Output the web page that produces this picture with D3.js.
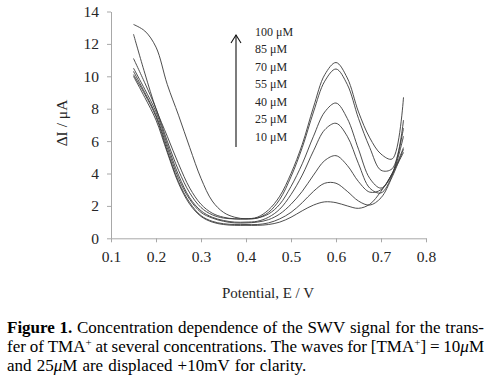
<!DOCTYPE html>
<html>
<head>
<meta charset="utf-8">
<script src="https://cdn.jsdelivr.net/npm/d3@7"></script>
<style>
  html, body { margin: 0; padding: 0; background: #fff; }
  svg { display: block; }
</style>
</head>
<body>
<svg id="chart" width="487" height="380"></svg>
<script>
// ---- data ----
const potentials = [0.15,0.175,0.2,0.225,0.25,0.275,0.3,0.325,0.35,0.375,0.4,0.425,0.45,0.475,0.5,0.525,0.55,0.575,0.6,0.625,0.65,0.675,0.7,0.725,0.75];
const c100 = [12.6,10.2,8.0,6.3,4.6,3.1,2.1,1.55,1.3,1.2,1.2,1.3,1.75,2.6,4.0,5.8,8.1,10.1,10.85,9.9,7.8,6.2,5.2,4.9,8.7];
const c85  = [13.2,12.8,11.8,9.5,7.6,5.6,3.7,2.3,1.6,1.3,1.2,1.25,1.6,2.4,3.8,5.6,7.8,9.7,10.45,9.5,7.4,5.6,4.2,4.3,7.3];
const c70  = [11.1,9.6,8.0,6.0,4.2,2.8,1.9,1.45,1.25,1.2,1.2,1.25,1.5,2.1,3.2,4.6,6.3,7.8,8.35,7.4,5.5,3.7,3.1,4.0,6.8];
const c55  = [10.5,9.2,7.8,5.8,3.9,2.5,1.7,1.3,1.1,1.0,1.0,1.05,1.3,1.8,2.7,3.9,5.4,6.7,7.1,6.3,4.6,3.1,2.8,3.9,6.3];
const c40  = [10.3,9.0,7.6,5.6,3.7,2.4,1.6,1.25,1.05,0.95,0.95,1.0,1.15,1.5,2.1,2.9,3.9,4.8,5.1,4.5,3.5,2.85,3.0,4.0,5.6];
const c25  = [10.1,8.9,7.5,5.4,3.5,2.2,1.4,1.05,0.9,0.85,0.85,0.85,0.95,1.2,1.6,2.2,2.9,3.4,3.4,2.9,2.3,2.05,2.5,3.8,5.5];
const c10  = [10.0,8.7,7.3,5.3,3.4,2.1,1.35,1.0,0.85,0.8,0.8,0.8,0.85,1.0,1.3,1.7,2.05,2.25,2.2,2.0,1.85,2.1,2.9,4.0,5.3];
const seriesValues = [c100, c85, c70, c55, c40, c25, c10];
const concLabels = ["100 \u03bcM","85 \u03bcM","70 \u03bcM","55 \u03bcM","40 \u03bcM","25 \u03bcM","10 \u03bcM"];
const xTicks = [0.1,0.2,0.3,0.4,0.5,0.6,0.7,0.8];
const yTicks = [0,2,4,6,8,10,12,14];

// ---- layout ----
const svg = d3.select("#chart");
const serif = "Liberation Serif";
const x = d3.scaleLinear().domain([0.1, 0.8]).range([111, 426]);
const y = d3.scaleLinear().domain([0, 14]).range([238.3, 11.5]);
const axisColor = "#a8a8a8";
const textColor = "#262626";

const gx = svg.append("g").attr("transform", `translate(0,${y(0)})`)
  .call(d3.axisBottom(x).tickValues(xTicks).tickSize(4).tickSizeOuter(0).tickPadding(9).tickFormat(d3.format(".1f")));
const gy = svg.append("g").attr("transform", `translate(${x(0.1)},0)`)
  .call(d3.axisLeft(y).tickValues(yTicks).tickSize(4).tickSizeOuter(0).tickPadding(8).tickFormat(d3.format("d")));
[gx, gy].forEach(g => {
  g.attr("font-family", serif).attr("font-size", 15.5);
  g.select(".domain").attr("stroke", axisColor).attr("stroke-width", 1);
  g.selectAll(".tick line").attr("stroke", axisColor).attr("stroke-width", 1);
  g.selectAll(".tick text").attr("fill", textColor);
});

// curves
const line = d3.line()
  .x((d, i) => x(potentials[i]))
  .y(d => y(d))
  .curve(d3.curveCatmullRom.alpha(0.5));
svg.append("g").selectAll("path").data(seriesValues).join("path")
  .attr("d", line)
  .attr("fill", "none")
  .attr("stroke", "#3a3a3a")
  .attr("stroke-width", 0.9);

// axis titles
svg.append("text")
  .attr("transform", "translate(67,123) rotate(-90)")
  .attr("text-anchor", "middle")
  .attr("font-family", serif).attr("font-size", 15.5).attr("fill", textColor)
  .text("\u0394I / \u03bcA");
svg.append("text")
  .attr("x", 268).attr("y", 298)
  .attr("text-anchor", "middle")
  .attr("font-family", serif).attr("font-size", 15).attr("fill", textColor)
  .text("Potential, E / V");

// legend arrow + labels
const leg = svg.append("g");
leg.append("line").attr("x1", 236).attr("x2", 236).attr("y1", 147).attr("y2", 35)
  .attr("stroke", "#111").attr("stroke-width", 1.1);
leg.append("path").attr("d", "M231,43 L236,35 L241,43").attr("fill", "none")
  .attr("stroke", "#111").attr("stroke-width", 1.1);
leg.selectAll("text").data(concLabels).join("text")
  .attr("x", 255).attr("y", (d, i) => 35.5 + i * 17.5)
  .attr("font-family", serif).attr("font-size", 12).attr("fill", textColor)
  .text(d => d);

// caption (justified)
const capSize = 17;
const L = 7, R = 484;
const captionLines = [
  { justify: true, words: [
    [{t:"Figure", b:1}], [{t:"1.", b:1}], [{t:"Concentration"}], [{t:"dependence"}], [{t:"of"}], [{t:"the"}],
    [{t:"SWV"}], [{t:"signal"}], [{t:"for"}], [{t:"the"}], [{t:"trans-"}]
  ]},
  { justify: true, words: [
    [{t:"fer"}], [{t:"of"}], [{t:"TMA"}, {t:"+", sup:1}], [{t:"at"}], [{t:"several"}], [{t:"concentrations."}],
    [{t:"The"}], [{t:"waves"}], [{t:"for"}], [{t:"[TMA"}, {t:"+", sup:1}, {t:"]"}], [{t:"="}],
    [{t:"10"}, {t:"\u03bc", i:1}, {t:"M"}]
  ]},
  { justify: false, words: [
    [{t:"and"}], [{t:"25"}, {t:"\u03bc", i:1}, {t:"M"}], [{t:"are"}], [{t:"displaced"}], [{t:"+10mV"}], [{t:"for"}], [{t:"clarity."}]
  ]}
];
const baselines = [333, 352, 371];
captionLines.forEach((ln, li) => {
  const g = svg.append("g");
  const nodes = ln.words.map(w => {
    const t = g.append("text").attr("y", baselines[li])
      .attr("font-family", serif).attr("font-size", capSize).attr("fill", "#000");
    w.forEach(seg => {
      const ts = t.append("tspan").text(seg.t);
      if (seg.b) ts.attr("font-weight", "bold");
      if (seg.i) ts.attr("font-style", "italic");
      if (seg.sup) ts.attr("dy", -6).attr("font-size", 11);
    });
    const segs = t.selectAll("tspan").nodes();
    w.forEach((seg, k) => { if (seg.sup && segs[k + 1]) d3.select(segs[k + 1]).attr("dy", 6); });
    return t;
  });
  const widths = nodes.map(n => n.node().getComputedTextLength());
  const total = d3.sum(widths);
  const space = capSize * 0.3;
  const gap = ln.justify ? (R - L - total) / (nodes.length - 1) : space;
  let cx = L;
  nodes.forEach((n, k) => { n.attr("x", cx); cx += widths[k] + gap; });
});
</script>
</body>
</html>
